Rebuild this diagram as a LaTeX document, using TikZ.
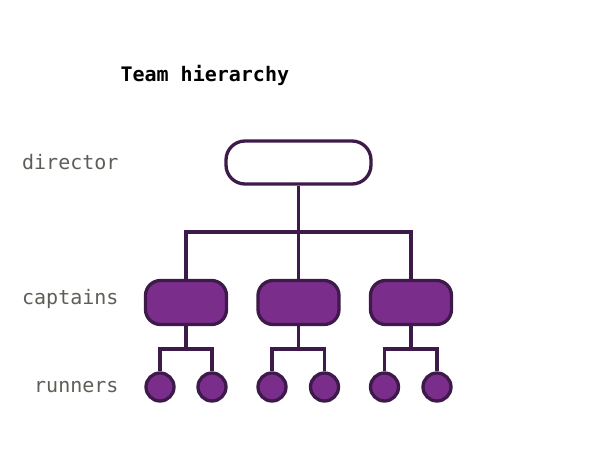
\documentclass[tikz,border=0pt]{standalone}
\usepackage{fontspec}
\setmonofont{DejaVu Sans Mono}
\definecolor{edgepurple}{HTML}{3D1A4A}
\definecolor{fillpurple}{HTML}{7B2D8B}
\definecolor{labelgrey}{HTML}{5F5D57}

\tikzset{
  boss/.style={draw=edgepurple, line width=3.3pt, fill=white, rounded corners=19pt,
    minimum width=145pt, minimum height=43pt, inner sep=0pt},
  captain/.style={draw=edgepurple, line width=3.3pt, fill=fillpurple, rounded corners=15pt,
    minimum width=81pt, minimum height=44pt, inner sep=0pt},
  runner/.style={circle, draw=edgepurple, line width=3.3pt, fill=fillpurple,
    minimum size=28pt, inner sep=0pt},
  link/.style={draw=edgepurple, line width=3.3pt},
  level/.style={text=labelgrey, font=\ttfamily\fontsize{20}{24}\selectfont, anchor=east}
}

\begin{document}
\begin{tikzpicture}[x=1pt,y=-1pt]
\useasboundingbox (0,0) rectangle (600,460);

\node[anchor=west, font=\ttfamily\bfseries\fontsize{20}{24}\selectfont, text=black] (title) at (117,75) {Team hierarchy};

% level labels
\node[level] (lbldir) at (122,162) {director};
\node[level] (lblcap) at (122,299) {captains};
\node[level] (lblrun) at (122,387) {runners};

% boxes
\node[boss] (dir) at (298.5,162.5) {};

\node[captain] (cap1) at (186,302.5) {};
\node[captain] (cap2) at (298.5,302.5) {};
\node[captain] (cap3) at (411,302.5) {};

\node[runner] (r1) at (160,387) {};
\node[runner] (r2) at (212,387) {};
\node[runner] (r3) at (272,387) {};
\node[runner] (r4) at (324.5,387) {};
\node[runner] (r5) at (384.5,387) {};
\node[runner] (r6) at (437,387) {};

% director to captains
\draw[link] (dir.south) -- (cap2.north);
\draw[link] (cap1.north) |- (dir.south |- 0,232) -| (cap3.north);

% captains to runners
\draw[link] (cap1.south) -- (cap1.south |- 0,349);
\draw[link] (r1.north) |- (cap1.south |- 0,349) -| (r2.north);
\draw[link] (cap2.south) -- (cap2.south |- 0,349);
\draw[link] (r3.north) |- (cap2.south |- 0,349) -| (r4.north);
\draw[link] (cap3.south) -- (cap3.south |- 0,349);
\draw[link] (r5.north) |- (cap3.south |- 0,349) -| (r6.north);
\end{tikzpicture}
\end{document}
